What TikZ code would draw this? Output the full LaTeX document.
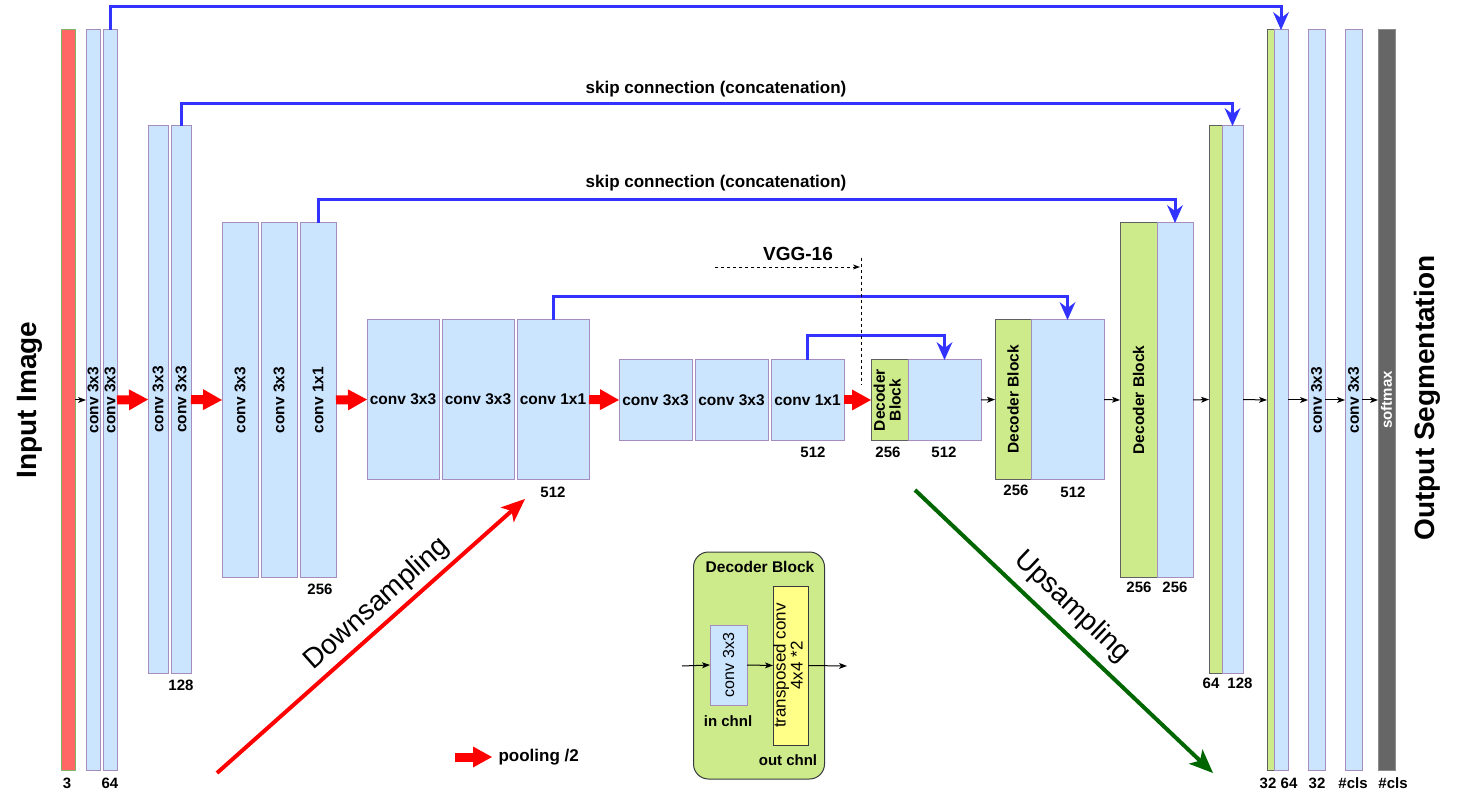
\documentclass[tikz,border=0pt]{standalone}
\usepackage{fontspec}
\setmainfont{Liberation Sans}
\usepackage{graphicx}
\usetikzlibrary{arrows.meta}
\definecolor{convblue}{HTML}{CCE5FF}
\definecolor{convline}{HTML}{A58DC0}
\definecolor{decgreen}{HTML}{CDEB8B}
\definecolor{decline}{HTML}{606060}
\definecolor{inred}{HTML}{FF6666}
\definecolor{inline}{HTML}{82B366}
\definecolor{skipblue}{HTML}{3333FF}
\definecolor{smgray}{HTML}{666666}
\definecolor{smline}{HTML}{8C8C8C}
\definecolor{tcyellow}{HTML}{FFFF88}
\definecolor{tcline}{HTML}{36393D}
\definecolor{upgreen}{HTML}{006600}
\newcommand{\fsz}[1]{\fontsize{#1pt}{#1pt}\selectfont}
\begin{document}
\begin{tikzpicture}[x=1pt,y=-1pt,
  box/.style={line width=1pt,inner sep=0pt,outer sep=0pt,font=\bfseries\fsz{15.5}},
  conv/.style={box,draw=convline,fill=convblue},
  dec/.style={box,draw=decline,fill=decgreen},
  sz/.style 2 args={minimum width=#1pt,minimum height=#2pt},
  numlbl/.style={font=\bfseries\fsz{15}},
  flow/.style={line width=1pt,-{Stealth[length=8pt,width=6pt,inset=2pt,line width=0pt]}},
  pool/.style={draw=red,line width=9pt,-{Triangle[length=19pt,width=21pt,line width=0pt]}},
  skiparrow/.style={draw=skipblue,line width=3pt,-{Stealth[length=18pt,width=16pt,inset=6pt,line width=0pt]}},
  diag/.style={line width=4pt,-{Stealth[length=24pt,width=20pt,inset=6pt,line width=0pt]}},
  vggline/.style={line width=0.8pt,dash pattern=on 3pt off 3pt}]
  \path[use as bounding box,fill=white] (0,0) rectangle (1460,794);
  \node[font=\bfseries\fsz{28},rotate=90] (inimg) at (30,400) {Input Image};
  \node[font=\bfseries\fsz{28},rotate=90] (outseg) at (1427,398) {Output Segmentation};
  \node[box,draw=inline,fill=inred,sz={14}{740}] (inp) at (68,400) {};
  \node[conv,sz={14}{740}] (c1a) at (93,400) {\rotatebox{90}{conv 3x3}};
  \node[conv,sz={14}{740}] (c1b) at (110,400) {\rotatebox{90}{conv 3x3}};
  \node[conv,sz={20}{547}] (c2a) at (158,399.5) {\rotatebox{90}{conv 3x3}};
  \node[conv,sz={20}{547}] (c2b) at (181,399.5) {\rotatebox{90}{conv 3x3}};
  \node[conv,sz={36}{354}] (c3a) at (240,400) {\rotatebox{90}{conv 3x3}};
  \node[conv,sz={36}{354}] (c3b) at (279,400) {\rotatebox{90}{conv 3x3}};
  \node[conv,sz={36}{354}] (c3c) at (318,400) {\rotatebox{90}{conv 1x1}};
  \node[conv,sz={72}{159}] (c4a) at (403,399.5) {conv 3x3};
  \node[conv,sz={72}{159}] (c4b) at (478,399.5) {conv 3x3};
  \node[conv,sz={72}{159}] (c4c) at (553,399.5) {conv 1x1};
  \node[conv,sz={73}{80}] (c5a) at (655.5,400) {conv 3x3};
  \node[conv,sz={73}{80}] (c5b) at (731.5,400) {conv 3x3};
  \node[conv,sz={73}{80}] (c5c) at (807.5,400) {conv 1x1};
  \node[dec,sz={37}{80}] (d1g) at (889.5,400) {\rotatebox{90}{\begin{tabular}{@{}c@{}}Decoder\\Block\end{tabular}}};
  \node[conv,sz={73}{80}] (d1b) at (944.5,400) {};
  \node[dec,sz={36}{159}] (d2g) at (1013,399.5) {\rotatebox{90}{Decoder Block}};
  \node[conv,sz={73}{159}] (d2b) at (1067.5,399.5) {};
  \node[dec,sz={37}{354}] (d3g) at (1138.5,400) {\rotatebox{90}{Decoder Block}};
  \node[conv,sz={36}{354}] (d3b) at (1175,400) {};
  \node[dec,sz={13}{547}] (d4g) at (1215.5,399.5) {};
  \node[conv,sz={21}{547}] (d4b) at (1232.5,399.5) {};
  \node[dec,sz={7}{740}] (d5g) at (1270.5,400) {};
  \node[conv,sz={14}{740}] (d5b) at (1281,400) {};
  \node[conv,sz={17}{740}] (f1) at (1316.5,400) {\rotatebox{90}{conv 3x3}};
  \node[conv,sz={17}{740}] (f2) at (1353.5,400) {\rotatebox{90}{conv 3x3}};
  \node[box,draw=smline,fill=smgray,text=white,sz={17}{740},font=\bfseries\fsz{15}] (sm) at (1386.5,400) {\rotatebox{90}{softmax}};
  \node[numlbl] (n3) at (67,783) {3};
  \node[numlbl] (n64a) at (110,783) {64};
  \node[numlbl] (n128a) at (181,685) {128};
  \node[numlbl] (n256a) at (320,589) {256};
  \node[numlbl] (n512a) at (553,492) {512};
  \node[numlbl] (n512b) at (813,452) {512};
  \node[numlbl] (n256b) at (888,452) {256};
  \node[numlbl] (n512c) at (944,452) {512};
  \node[numlbl] (n256c) at (1016,490) {256};
  \node[numlbl] (n512d) at (1073,492) {512};
  \node[numlbl] (n256d) at (1139,587) {256};
  \node[numlbl] (n256e) at (1175,587) {256};
  \node[numlbl] (n64b) at (1211,683) {64};
  \node[numlbl] (n128b) at (1240,683) {128};
  \node[numlbl] (n32a) at (1268,783) {32};
  \node[numlbl] (n64c) at (1289,783) {64};
  \node[numlbl] (n32b) at (1317,783) {32};
  \node[numlbl] (ncls1) at (1353,783) {\#cls};
  \node[numlbl] (ncls2) at (1393,783) {\#cls};
  \draw[flow] (inp.east) -- (c1a.west);
  \draw[pool] (c1b.east) -- (c2a.west);
  \draw[pool] (c2b.east) -- (c3a.west);
  \draw[pool] (c3c.east) -- (c4a.west);
  \draw[pool] (c4c.east) -- (c5a.west);
  \draw[pool] (c5c.east) -- (d1g.west);
  \draw[flow] (d1b.east) -- (d2g.west);
  \draw[flow] (d2b.east) -- (d3g.west);
  \draw[flow] (d3b.east) -- (d4g.west);
  \draw[flow] (d4b.east) -- (d5g.west);
  \draw[flow] (d5b.east) -- (f1.west);
  \draw[flow] (f1.east) -- (f2.west);
  \draw[flow] (f2.east) -- (sm.west);
  \draw[skiparrow] (c1b.north) -- ++(0,-23) -| (d5b.north);
  \draw[skiparrow] (c2b.north) -- ++(0,-22) -| (d4b.north);
  \draw[skiparrow] (c3c.north) -- ++(0,-23) -| (d3b.north);
  \draw[skiparrow] (c4c.north) -- ++(0,-23) -| (d2b.north);
  \draw[skiparrow] (c5c.north) -- ++(0,-24) -| (d1b.north);
  \node[font=\bfseries\fsz{17}] (sk2) at (716,89) {skip connection (concatenation)};
  \node[font=\bfseries\fsz{17}] (sk3) at (716,183) {skip connection (concatenation)};
  \node[font=\bfseries\fsz{19}] (vgg) at (798,254) {VGG-16};
  \coordinate (vggA) at (715,267);
  \coordinate (vggB) at (860,267);
  \coordinate (vggT) at (861,258);
  \coordinate (vggU) at (861,385);
  \draw[vggline,-{Stealth[length=7pt,width=5pt,inset=2pt,line width=0pt]}] (vggA) -- (vggB);
  \draw[vggline] (vggT) -- (vggU);
  \coordinate (dsS) at (217,773);
  \coordinate (dsE) at (525,499);
  \draw[diag,red] (dsS) -- (dsE);
  \node[font=\fsz{28},rotate=41.7] (dslbl) at (377,604) {Downsampling};
  \coordinate (usS) at (915,490);
  \coordinate (usE) at (1213,773);
  \draw[diag,upgreen] (usS) -- (usE);
  \node[font=\fsz{28},rotate=-43.5] (uslbl) at (1072,607) {Upsampling};
  \node[draw=tcline,fill=decgreen,line width=1pt,rounded corners=15pt,minimum width=131pt,minimum height=227pt] (dblk) at (759,665.5) {};
  \node[font=\bfseries\fsz{15.5}] (dbt) at (760,567) {Decoder Block};
  \node[conv,sz={37}{80},font=\fsz{16}] (ic) at (728.5,665) {\rotatebox{90}{conv 3x3}};
  \node[box,draw=tcline,fill=tcyellow,sz={35}{159},font=\fsz{17}] (tc) at (790.5,665.5) {\rotatebox{90}{\begin{tabular}{@{}c@{}}transposed conv\\4x4 *2\end{tabular}}};
  \node[numlbl] (inch) at (728,721) {in chnl};
  \node[numlbl] (outch) at (788,760) {out chnl};
  \coordinate (dbin) at (682,666);
  \coordinate (dbout) at (847,666);
  \draw[flow] (dbin) -- (ic.west);
  \draw[flow] (ic.east) -- (tc.west);
  \draw[flow] (tc.east) -- (dbout);
  \coordinate (lgA) at (455,757);
  \coordinate (lgB) at (492,757);
  \draw[pool] (lgA) -- (lgB);
  \node[anchor=west,font=\bfseries\fsz{17}] (lgtxt) at (495,757) {pooling /2};
\end{tikzpicture}
\end{document}
